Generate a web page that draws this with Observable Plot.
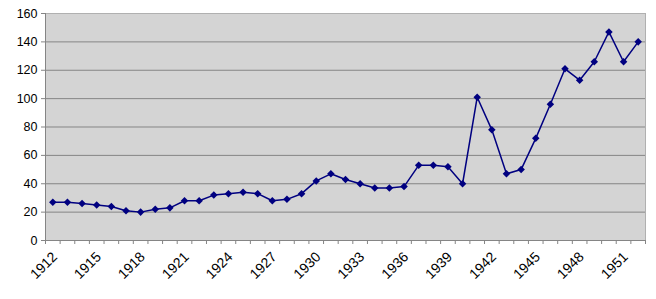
<!DOCTYPE html>
<html>
<head>
<meta charset="utf-8">
<script src="https://cdn.jsdelivr.net/npm/d3@7"></script>
<script src="https://cdn.jsdelivr.net/npm/@observablehq/plot@0.6"></script>
<style>
  html, body { margin: 0; padding: 0; background: white; }
</style>
</head>
<body>
<div id="chart"></div>
<script>
const years = [1912,1913,1914,1915,1916,1917,1918,1919,1920,1921,1922,1923,1924,1925,1926,1927,1928,1929,1930,1931,1932,1933,1934,1935,1936,1937,1938,1939,1940,1941,1942,1943,1944,1945,1946,1947,1948,1949,1950,1951,1952];
const values = [27,27,26,25,24,21,20,22,23,28,28,32,33,34,33,28,29,33,42,47,43,40,37,37,38,53,53,52,40,101,78,47,50,72,96,121,113,126,147,126,140];
const yTicks = [0,20,40,60,80,100,120,140,160];
const xLabels = [1912,1915,1918,1921,1924,1927,1930,1933,1936,1939,1942,1945,1948,1951];

const data = years.map((y, i) => ({year: y, value: values[i]}));
const bounds = years.map(y => y - 0.5).concat([years[years.length - 1] + 0.5]);

const chart = Plot.plot({
  width: 656,
  height: 299,
  marginLeft: 45,
  marginRight: 11,
  marginTop: 13,
  marginBottom: 59,
  style: {fontFamily: "'Liberation Sans', Arial, sans-serif", fontSize: "12px", color: "#000", background: "white"},
  x: {type: "linear", domain: [bounds[0], bounds[bounds.length - 1]]},
  y: {domain: [0, 160]},
  marks: [
    Plot.frame({fill: "#d4d4d4", stroke: null}),
    Plot.gridY(yTicks, {stroke: "#858585", strokeOpacity: 1, strokeWidth: 1}),
    Plot.frame({stroke: "#b0b0b0", strokeWidth: 1}),
    Plot.ruleX([bounds[0]], {stroke: "#858585"}),
    Plot.ruleY([0], {stroke: "#858585"}),
    Plot.axisY({ticks: yTicks, tickSize: 4, tickPadding: 4, label: null, stroke: "#858585", fontSize: 12.5}),
    Plot.axisX({ticks: bounds, tickSize: 4, tickFormat: () => "", label: null, stroke: "#858585"}),
    Plot.axisX({ticks: xLabels, tickSize: 0, tickPadding: 14, tickRotate: -45, tickFormat: d => String(d), label: null, fontSize: 14, dx: 2}),
    Plot.line(data, {x: "year", y: "value", stroke: "#000080", strokeWidth: 1.5}),
    Plot.dot(data, {x: "year", y: "value", symbol: "square", rotate: 45, r: 3, fill: "#000080", stroke: null})
  ]
});
document.getElementById("chart").append(chart);
</script>
</body>
</html>
